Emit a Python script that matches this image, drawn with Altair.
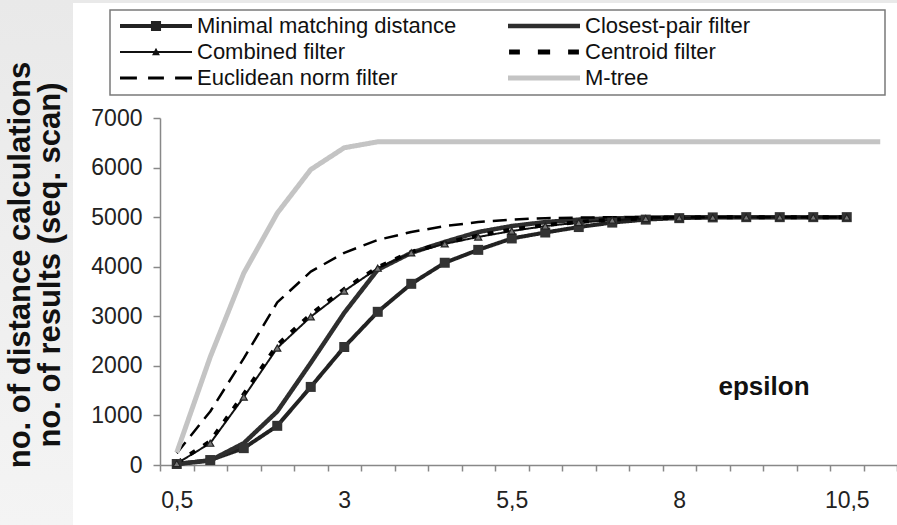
import altair as alt
import pandas as pd

# ---------------- data ----------------
categories = ["0,5", "1", "1,5", "2", "2,5", "3", "3,5", "4", "4,5", "5", "5,5",
              "6", "6,5", "7", "7,5", "8", "8,5", "9", "9,5", "10", "10,5", "11"]
shown_labels = ["0,5", "3", "5,5", "8", "10,5"]
series_names = ["Minimal matching distance", "Closest-pair filter", "Combined filter",
                "Centroid filter", "Euclidean norm filter", "M-tree"]
# the legend fills its two columns top to bottom
legend_order = ["Minimal matching distance", "Combined filter", "Euclidean norm filter",
                "Closest-pair filter", "Centroid filter", "M-tree"]

minimal_matching = [20, 100, 340, 790, 1575, 2380, 3090, 3655, 4080, 4340, 4570,
                    4690, 4800, 4890, 4950, 4980, 4995, 5000, 5000, 5000, 5000]
closest_pair = [20, 90, 440, 1080, 2060, 3070, 3940, 4280, 4500, 4700, 4820,
                4900, 4950, 4975, 4990, 5000, 5000, 5000, 5000, 5000, 5000]
combined = [30, 440, 1370, 2360, 2990, 3510, 3970, 4280, 4460, 4600, 4720,
            4820, 4890, 4940, 4970, 4985, 4995, 5000, 5000, 5000, 5000]
centroid = [40, 480, 1430, 2420, 3040, 3550, 3990, 4300, 4480, 4630, 4750,
            4840, 4900, 4950, 4975, 4990, 5000, 5000, 5000, 5000, 5000]
euclidean = [240, 1080, 2150, 3280, 3900, 4280, 4540, 4700, 4820, 4900, 4950,
             4980, 4990, 5000, 5000, 5000, 5000, 5000, 5000, 5000, 5000]
m_tree = [250, 2180, 3870, 5080, 5960, 6400, 6520, 6520, 6520, 6520, 6520,
          6520, 6520, 6520, 6520, 6520, 6520, 6520, 6520, 6520, 6520, 6520]
y_ticks = [0, 1000, 2000, 3000, 4000, 5000, 6000, 7000]

# ---------------- styles (order of series_names) ----------------
FONT = "Liberation Sans"
line_colors = ["#222222", "#2e2e2e", "#111111", "#000000", "#000000", "#c4c4c4"]
line_widths = [4, 4.5, 2, 4, 2.5, 5]
line_dashes = [[1, 0], [1, 0], [1, 0], [6, 10], [14, 8], [1, 0]]

# legend symbols (order of legend_order)
legend_paths = [
    "M-1,-0.055H1V0.055H-1Z M-0.14,-0.14H0.14V0.14H-0.14Z",
    "M-1,-0.03H1V0.03H-1Z M-0.11,0.09L0,-0.12L0.11,0.09Z",
    "M-1,-0.045H-0.53V0.045H-1Z M-0.22,-0.045H0.22V0.045H-0.22Z M0.53,-0.045H1V0.045H0.53Z",
    "M-1,-0.06H1V0.06H-1Z",
    "M-0.97,-0.07H-0.67V0.07H-0.97Z M-0.17,-0.07H0.17V0.07H-0.17Z M0.67,-0.07H0.97V0.07H0.67Z",
    "M-1,-0.07H1V0.07H-1Z",
]
legend_fills = ["#222222", "#111111", "#000000", "#2e2e2e", "#000000", "#c4c4c4"]

rows = []
for name, vals in zip(series_names, [minimal_matching, closest_pair, combined,
                                     centroid, euclidean, m_tree]):
    for i, v in enumerate(vals):
        rows.append({"series": name, "eps": categories[i], "idx": i, "value": v})
df = pd.DataFrame(rows)

label_list = "[" + ",".join("'" + s + "'" for s in shown_labels) + "]"

x_enc = alt.X(
    "eps:O",
    sort=categories,
    bandPosition=0.5,
    scale=alt.Scale(type="band", domain=categories, paddingInner=0, paddingOuter=0),
    axis=alt.Axis(
        title=None, tickBand="extent", labelAngle=0, labelOverlap=False,
        labelExpr=f"indexof({label_list}, datum.value) >= 0 ? datum.label : ''",
        labelFont=FONT, labelFontSize=23, labelColor="#222222", labelPadding=18,
        tickSize=6, tickColor="#888888", domainColor="#888888", domainWidth=1.5,
        tickWidth=1.5, grid=False,
    ),
)
y_enc = alt.Y(
    "value:Q",
    scale=alt.Scale(domain=[0, 7000], nice=False),
    axis=alt.Axis(
        title=None, values=y_ticks, format="d", labelFont=FONT, labelFontSize=23,
        labelColor="#222222", labelPadding=11, tickSize=7, tickColor="#888888",
        domainColor="#888888", domainWidth=1.5, tickWidth=1.5, grid=False,
    ),
)

one_row = alt.Data(values=[{"k": 1}])

left_strip = alt.Chart(one_row).mark_rect(
    fill=alt.Gradient(gradient="linear", x1=0, x2=0, y1=0, y2=1,
                      stops=[alt.GradientStop(offset=0, color="#e9e9e9"),
                             alt.GradientStop(offset=1, color="#f4f4f4")])
).encode(x=alt.value(-160), x2=alt.value(-87), y=alt.value(-118), y2=alt.value(407))

top_strip = alt.Chart(one_row).mark_rect(fill="#e9e9e9").encode(
    x=alt.value(-87), x2=alt.value(737), y=alt.value(-118), y2=alt.value(-115))

legend_box = alt.Chart(one_row).mark_rect(
    fill="transparent", stroke="#7a7a7a", strokeWidth=1.5
).encode(x=alt.value(-50), x2=alt.value(725), y=alt.value(-108), y2=alt.value(-23))

lines = alt.Chart(df).mark_line(strokeJoin="round").encode(
    x=x_enc,
    y=y_enc,
    order=alt.Order("idx:Q"),
    stroke=alt.Stroke("series:N", scale=alt.Scale(domain=series_names, range=line_colors), legend=None),
    strokeWidth=alt.StrokeWidth("series:N", scale=alt.Scale(type="ordinal", domain=series_names, range=line_widths), legend=None),
    strokeDash=alt.StrokeDash("series:N", scale=alt.Scale(domain=series_names, range=line_dashes), legend=None),
)

squares = alt.Chart(df).transform_filter(
    alt.datum.series == "Minimal matching distance"
).mark_point(shape="square", filled=True, fill="#333333", size=100, opacity=1).encode(
    x=x_enc, y=y_enc)

triangles = alt.Chart(df).transform_filter(
    alt.datum.series == "Combined filter"
).mark_point(shape="triangle-up", filled=True, fill="#777777", stroke="#222222",
             strokeWidth=1.2, size=50, opacity=1).encode(x=x_enc, y=y_enc)

leg = alt.Legend(
    title=None, orient="none", legendX=-40, legendY=-103, columns=2, clipHeight=22,
    symbolSize=5184, symbolStrokeWidth=0, padding=0,
    labelFont=FONT, labelFontSize=22, labelColor="#111111", labelOffset=5,
    labelLimit=500, rowPadding=4, columnPadding=51,
)
legend_layer = alt.Chart(df).mark_point(
    filled=True, opacity=1, strokeWidth=0, size=0
).encode(
    x=x_enc, y=y_enc,
    shape=alt.Shape("series:N", scale=alt.Scale(domain=legend_order, range=legend_paths), legend=leg),
    fill=alt.Fill("series:N", scale=alt.Scale(domain=legend_order, range=legend_fills), legend=leg),
)

epsilon = alt.Chart(one_row).mark_text(
    text="epsilon", font=FONT, fontSize=26, fontWeight="bold", color="#111111",
    align="center", baseline="middle"
).encode(x=alt.value(604), y=alt.value(269))

y_title = alt.Chart(one_row).mark_text(
    text=["no. of distance calculations", "no. of results (seq. scan)"],
    font=FONT, fontSize=31, fontWeight="bold", color="#111111", angle=270,
    align="center", baseline="middle", lineHeight=30
).encode(x=alt.value(-139), y=alt.value(147))

chart = alt.layer(
    left_strip, top_strip, lines, squares, triangles, legend_layer, legend_box, epsilon, y_title
).properties(
    width=737, height=347,
    autosize=alt.AutoSizeParams(type="none"),
    padding={"left": 160, "top": 118, "right": 0, "bottom": 60},
    background="white",
).configure_view(strokeWidth=0)

chart.save("out.html", embed_options={"renderer": "svg", "actions": False})
